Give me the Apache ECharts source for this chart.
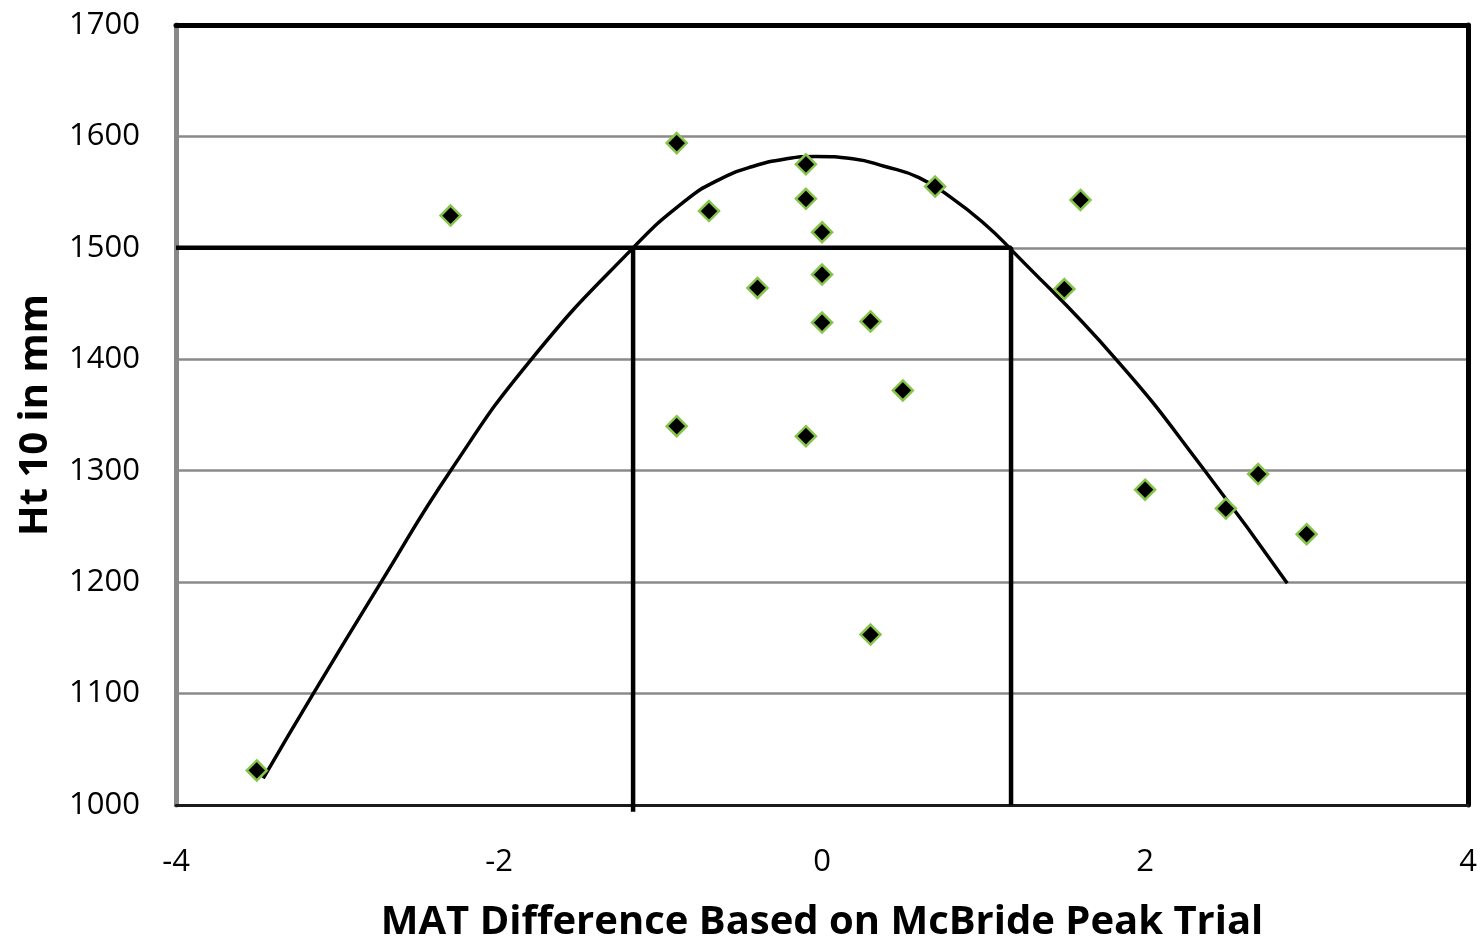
<!DOCTYPE html>
<html>
<head>
<meta charset="utf-8">
<script src="https://cdn.jsdelivr.net/npm/echarts@6/dist/echarts.min.js"></script>
<style>
html,body{margin:0;padding:0;background:#fff;}
#chart{width:1480px;height:948px;}
</style>
</head>
<body>
<div id="chart"></div>
<script>
// ---- data ----
const ptsX = [-3.50, -2.30, -0.90, -0.70, -0.40, -0.90, -0.10, -0.10, -0.10, 0.00, 0.00, 0.00, 0.30, 0.50, 0.30, 0.70, 1.60, 1.50, 2.00, 2.50, 2.70, 3.00];
const ptsY = [1031, 1529, 1594, 1533, 1464, 1340, 1575, 1544, 1331, 1514, 1476, 1433, 1434, 1372, 1153, 1555, 1543, 1463, 1283, 1266, 1297, 1243];

const curveX = [-3.46, -3.15, -2.73, -2.30, -1.80, -1.17, -0.84, -0.64, -0.43, -0.22, -0.04, 0.19, 0.39, 0.60, 0.81, 1.01, 1.16, 1.82, 2.37, 2.88];
const curveY = [1024, 1100, 1200, 1300, 1400, 1500, 1543, 1561, 1573, 1580, 1582, 1580, 1573, 1563, 1544, 1521, 1500, 1400, 1300, 1199];

const cutoffY = 1500;
const cutoffX = [-1.17, 1.17];
const leftDropEnd = 994;

const xTicks = {min: -4, max: 4, interval: 2};
const yTicks = {min: 1000, max: 1700, interval: 100};

const xTitle = 'MAT Difference Based on McBride Peak Trial';
const yTitle = 'Ht 10 in mm';

// ---- build ----
const scatterData = ptsX.map((x, i) => [x, ptsY[i]]);
const curveData = curveX.map((x, i) => [x, curveY[i]]);
const rightCut = [[xTicks.min, cutoffY], [cutoffX[1], cutoffY], [cutoffX[1], yTicks.min]];
const leftCut = [[cutoffX[0], cutoffY], [cutoffX[0], leftDropEnd]];

const FONT = "'Open Sans', 'Liberation Sans', sans-serif";

const chart = echarts.init(document.getElementById('chart'), null, {renderer: 'canvas'});
chart.setOption({
  backgroundColor: '#ffffff',
  animation: false,
  grid: {left: 176, right: 10, top: 25, bottom: 138, containLabel: false},
  xAxis: [{
    type: 'value', min: xTicks.min, max: xTicks.max, interval: xTicks.interval,
    name: xTitle, nameLocation: 'middle', nameGap: 98,
    nameTextStyle: {fontFamily: FONT, fontWeight: 'bold', fontSize: 40, color: '#000'},
    axisLine: {show: true, onZero: false, lineStyle: {color: '#1a1a1a', width: 3}},
    axisTick: {show: false},
    splitLine: {show: false},
    axisLabel: {fontFamily: FONT, fontSize: 31, color: '#000', margin: 42,
      formatter: v => String(v)}
  }, {
    type: 'value', position: 'top', min: xTicks.min, max: xTicks.max, interval: xTicks.interval,
    axisLine: {show: true, onZero: false, lineStyle: {color: '#000', width: 5}},
    axisTick: {show: false}, axisLabel: {show: false}, splitLine: {show: false}
  }],
  yAxis: [{
    type: 'value', min: yTicks.min, max: yTicks.max, interval: yTicks.interval,
    name: yTitle, nameLocation: 'middle', nameGap: 120, nameRotate: 90,
    nameTextStyle: {fontFamily: FONT, fontWeight: 'bold', fontSize: 40, color: '#000'},
    axisLine: {show: true, onZero: false, lineStyle: {color: '#888888', width: 5}},
    axisTick: {show: false},
    splitLine: {show: true, lineStyle: {color: '#8a8a8a', width: 2.5}},
    axisLabel: {fontFamily: FONT, fontSize: 31, color: '#000', margin: 36,
      formatter: v => String(v)}
  }, {
    type: 'value', position: 'right', min: yTicks.min, max: yTicks.max, interval: yTicks.interval,
    axisLine: {show: true, onZero: false, lineStyle: {color: '#000', width: 5}},
    axisTick: {show: false}, axisLabel: {show: false}, splitLine: {show: false}
  }],
  series: [
    {
      name: 'fit', type: 'line', data: curveData, smooth: 0.5,
      showSymbol: false, symbol: 'none',
      lineStyle: {color: '#000', width: 3.5}, z: 3
    },
    {
      name: 'cutoff', type: 'line', data: rightCut, showSymbol: false, symbol: 'none',
      lineStyle: {color: '#000', width: 4.5}, z: 4
    },
    {
      name: 'cutoffLeft', type: 'line', data: leftCut, showSymbol: false, symbol: 'none', clip: false,
      lineStyle: {color: '#000', width: 4.5}, z: 4
    },
    {
      name: 'trees', type: 'scatter', data: scatterData, symbol: 'diamond', symbolSize: 20,
      itemStyle: {color: '#000', opacity: 1, borderColor: '#86c44a', borderWidth: 2.5}, z: 5
    }
  ]
});
</script>
</body>
</html>
